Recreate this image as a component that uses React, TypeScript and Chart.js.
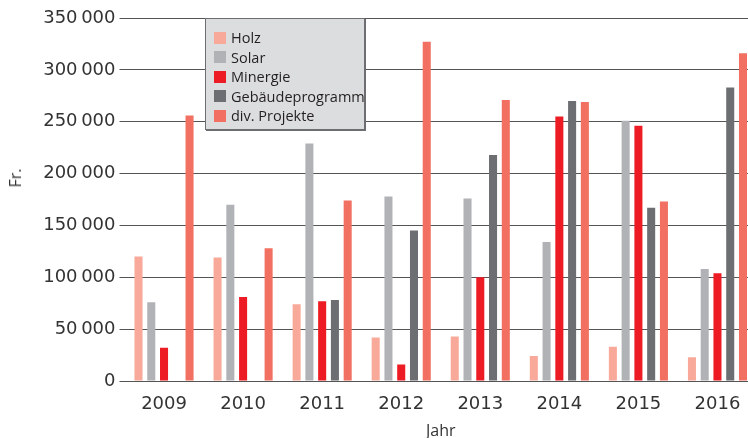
import React, { useEffect, useRef } from 'react';
import { Chart, registerables } from 'chart.js';
Chart.register(...registerables);

const years = ['2009', '2010', '2011', '2012', '2013', '2014', '2015', '2016'];
const holz = [120000, 119000, 74000, 42000, 43000, 24000, 33000, 23000];
const solar = [76000, 170000, 229000, 178000, 176000, 134000, 251000, 108000];
const minergie = [32000, 81000, 77000, 16000, 100000, 255000, 246000, 104000];
const gebaeude = [0, 0, 78000, 145000, 218000, 270000, 167000, 283000];
const projekte = [256000, 128000, 174000, 327000, 271000, 269000, 173000, 316000];

const seriesLabels = ['Holz', 'Solar', 'Minergie', 'Gebäudeprogramm', 'div. Projekte'];
const seriesColors = ['#F8A99A', '#B1B2B6', '#ED1C24', '#6D6E72', '#F27061'];
const seriesData = [holz, solar, minergie, gebaeude, projekte];

const FONT = '"Open Sans", sans-serif';
const TICKFONT = '"DejaVu Sans", sans-serif';

function fmt(v: number) {
  const s = String(Math.round(v));
  return s.replace(/\B(?=(\d{3})+(?!\d))/g, '\u2009');
}

export default function App() {
  const ref = useRef<HTMLCanvasElement>(null);
  useEffect(() => {
    const ctx = ref.current!;
    const chart = new Chart(ctx, {
      type: 'bar',
      data: {
        labels: years,
        datasets: seriesLabels.map((l, i) => ({
          label: l,
          data: seriesData[i],
          backgroundColor: seriesColors[i],
          borderWidth: 0,
          categoryPercentage: 0.807,
          barPercentage: 0.63,
        })),
      },
      options: {
        responsive: false,
        animation: false,
        layout: { padding: { top: 18, right: 3, bottom: 0, left: 0 } },
        plugins: { legend: { display: false }, tooltip: { enabled: false } },
        scales: {
          x: {
            grid: { display: false },
            border: { display: false },
            ticks: { color: '#333', font: { family: TICKFONT, size: 18 }, padding: 5 },
            title: { display: true, text: 'Jahr', color: '#333', font: { family: FONT, size: 16 }, padding: { top: 0, bottom: 0 } },
            afterFit: (s: any) => { s.height = 60; },
          },
          y: {
            min: 0,
            max: 350000,
            ticks: { stepSize: 50000, color: '#333', font: { family: TICKFONT, size: 18 }, padding: 4, callback: (v: any) => fmt(Number(v)) },
            grid: { color: '#555', lineWidth: 1, tickLength: 5, drawTicks: true },
            border: { display: false },
            title: { display: false },
            afterFit: (s: any) => { s.width = 124.5; },
          },
        },
      },
    });
    return () => chart.destroy();
  }, []);

  return (
    <div style={{ position: 'fixed', left: 0, top: 0, width: 748, height: 438, overflow: 'hidden', background: '#fff' }}>
      <canvas ref={ref} width={760} height={441} style={{ display: 'block', width: 760, height: 441 }} />
      <div
        style={{
          position: 'absolute', left: 15, top: 178, width: 0, height: 0,
        }}
      >
        <span
          style={{
            position: 'absolute', left: 0, top: 0, transform: 'translate(-50%, -50%) rotate(-90deg)',
            fontFamily: FONT, fontSize: 16, color: '#333', whiteSpace: 'nowrap', lineHeight: 1,
          }}
        >
          Fr.
        </span>
      </div>
      <div
        style={{
          position: 'absolute', left: 205, top: 18, width: 160, height: 112,
          background: '#DCDDDE', border: '1px solid #6D6E72', boxShadow: '1px 1px 0 #6D6E72',
          fontFamily: FONT, fontSize: 14.5, color: '#231F20', boxSizing: 'border-box',
          paddingTop: 9, paddingLeft: 8,
        }}
      >
        {seriesLabels.map((l, i) => (
          <div key={l} style={{ display: 'flex', alignItems: 'center', height: 19.5 }}>
            <span style={{ display: 'inline-block', width: 12, height: 12, background: seriesColors[i], marginRight: 5, flexShrink: 0 }} />
            <span style={{ whiteSpace: 'nowrap' }}>{l}</span>
          </div>
        ))}
      </div>
    </div>
  );
}
